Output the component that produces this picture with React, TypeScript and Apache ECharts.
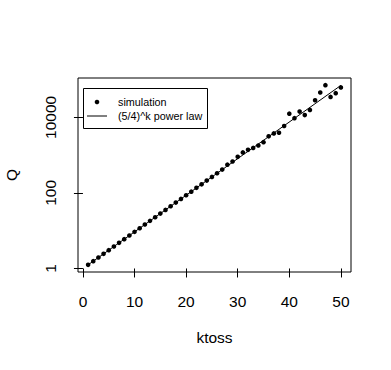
import React, { useEffect, useRef } from "react";
import * as echarts from "echarts";

// ---- data ----
const ktoss = [
  1, 2, 3, 4, 5, 6, 7, 8, 9, 10, 11, 12, 13, 14, 15, 16, 17, 18, 19, 20, 21, 22, 23, 24, 25,
  26, 27, 28, 29, 30, 31, 32, 33, 34, 35, 36, 37, 38, 39, 40, 41, 42, 43, 44, 45, 46, 47, 48, 49, 50,
];
const simulationQ = [
  1.25, 1.56, 1.95, 2.44, 3.05, 3.81, 4.77, 5.96, 7.45, 9.31, 11.6, 14.6, 18.2, 22.7, 28.4,
  35.5, 44.4, 55.5, 69.4, 86.7, 108, 136, 169, 212, 265, 331, 414, 560, 680, 900, 1180, 1380,
  1550, 1800, 2200, 3150, 3750, 3900, 5900, 12500, 9500, 14200, 11500, 15700, 28400, 45500,
  71000, 34700, 43700, 62000,
];
const powerLawK = [1, 50];
const powerLawQ = [1.25, 70065];
const xTicks = [0, 10, 20, 30, 40, 50];
const yTicks = [1, 100, 10000];
const legendLabels = ["simulation", "(5/4)^k power law"];
const xTitle = "ktoss";
const yTitle = "Q";

const FONT = "'Liberation Sans', Arial, Helvetica, sans-serif";

export default function App() {
  const ref = useRef<HTMLDivElement>(null);

  useEffect(() => {
    if (!ref.current) return;
    const chart = echarts.init(ref.current, undefined, { renderer: "svg" });

    const xMinD = Math.min(...ktoss);
    const xMaxD = Math.max(...ktoss);
    const xPad = (xMaxD - xMinD) * 0.04;
    const logQ = simulationQ.map((q) => Math.log10(q));
    const yMinD = Math.min(...logQ);
    const yMaxD = Math.max(...logQ);
    const yPad = (yMaxD - yMinD) * 0.04;

    const yTickLogs = yTicks.map((v) => Math.log10(v));

    chart.setOption({
      animation: false,
      backgroundColor: "#fff",
      textStyle: { fontFamily: FONT, color: "#000" },
      grid: {
        left: 78,
        top: 78,
        right: 40,
        bottom: 98,
        containLabel: false,
        outerBoundsMode: "none",
        show: true,
        borderColor: "#000",
        borderWidth: 1,
        backgroundColor: "transparent",
      },
      xAxis: {
        type: "value",
        min: xMinD - xPad,
        max: xMaxD + xPad,
        name: xTitle,
        nameLocation: "middle",
        nameGap: 57,
        nameTextStyle: { fontSize: 15.5, color: "#000", fontFamily: FONT },
        axisLine: { show: false },
        splitLine: { show: false },
        axisTick: {
          show: true,
          length: 9,
          customValues: xTicks,
          lineStyle: { color: "#000", width: 1 },
        },
        axisLabel: {
          customValues: xTicks,
          margin: 21,
          fontSize: 15.5,
          color: "#000",
          fontFamily: FONT,
        },
      },
      yAxis: {
        type: "value",
        min: yMinD - yPad,
        max: yMaxD + yPad,
        name: yTitle,
        nameLocation: "middle",
        nameRotate: 90,
        nameGap: 59,
        nameTextStyle: { fontSize: 15.5, color: "#000", fontFamily: FONT },
        axisLine: { show: false },
        splitLine: { show: false },
        axisTick: {
          show: true,
          length: 9,
          customValues: yTickLogs,
          lineStyle: { color: "#000", width: 1 },
        },
        axisLabel: {
          customValues: yTickLogs,
          rotate: 90,
          margin: 20,
          fontSize: 15.5,
          color: "#000",
          fontFamily: FONT,
          formatter: (v: number) => String(Math.round(Math.pow(10, v))),
        },
      },
      series: [
        {
          name: legendLabels[0],
          type: "scatter",
          symbol: "circle",
          symbolSize: 4.6,
          itemStyle: { color: "#000", opacity: 1 },
          data: ktoss.map((k, i) => [k, logQ[i]]),
          z: 3,
        },
        {
          name: legendLabels[1],
          type: "line",
          showSymbol: false,
          symbol: "none",
          lineStyle: { color: "#000", width: 1 },
          data: powerLawK.map((k, i) => [k, Math.log10(powerLawQ[i])]),
          z: 2,
        },
      ],
      graphic: [
        {
          type: "rect",
          shape: { x: 83.5, y: 88.5, width: 124, height: 40 },
          style: { fill: "#fff", stroke: "#000", lineWidth: 1 },
          z: 10,
        },
        {
          type: "circle",
          shape: { cx: 97, cy: 102, r: 2.3 },
          style: { fill: "#000" },
          z: 11,
        },
        {
          type: "line",
          shape: { x1: 87, y1: 116, x2: 107, y2: 116 },
          style: { stroke: "#000", lineWidth: 1 },
          z: 11,
        },
        {
          type: "text",
          x: 118,
          y: 102,
          style: {
            text: legendLabels[0],
            fontSize: 10.8,
            fontFamily: FONT,
            fill: "#000",
            verticalAlign: "middle",
            align: "left",
          },
          z: 11,
        },
        {
          type: "text",
          x: 118,
          y: 115.5,
          style: {
            text: legendLabels[1],
            fontSize: 10.8,
            fontFamily: FONT,
            fill: "#000",
            verticalAlign: "middle",
            align: "left",
          },
          z: 11,
        },
      ],
    });

    return () => chart.dispose();
  }, []);

  return (
    <div
      ref={ref}
      style={{ position: "fixed", left: 0, top: 0, width: 391, height: 370, background: "#fff" }}
    />
  );
}
